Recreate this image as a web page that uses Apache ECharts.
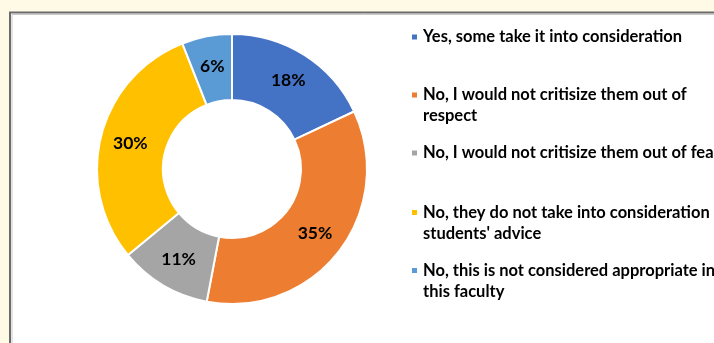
<!DOCTYPE html>
<html>
<head>
<meta charset="utf-8">
<script src="https://cdn.jsdelivr.net/npm/echarts@6/dist/echarts.min.js"></script>
<style>
html,body{margin:0;padding:0;background:#FFFAE6;}
#c{width:714px;height:343px;}
</style>
</head>
<body>
<div id="c"></div>
<script>
const categories = [
  "Yes, some take it into consideration",
  "No, I would not critisize them out of\nrespect",
  "No, I would not critisize them out of fear",
  "No, they do not take into consideration\nstudents' advice",
  "No, this is not considered appropriate in\nthis faculty"
];
const values = [18, 35, 11, 30, 6];
const colors = ["#4472C4", "#ED7D31", "#A5A5A5", "#FFC000", "#5B9BD5"];

const FONT = "Lato";
const LH = 21;
const firstLineY = [37, 95, 153, 212.5, 270.5];

const legends = categories.map((name, i) => {
  const twoLine = name.indexOf("\n") >= 0;
  return {
    orient: "vertical",
    left: 410,
    top: twoLine ? firstLineY[i] - 1.5 * LH : firstLineY[i] - LH / 2,
    padding: 0,
    itemWidth: 7,
    itemHeight: 7,
    icon: "rect",
    selectedMode: false,
    data: [name],
    formatter: twoLine ? (n) => " \n" + n : "{name}",
    textStyle: {
      fontFamily: FONT,
      fontWeight: "bold",
      fontSize: 16.5,
      color: "#000",
      lineHeight: LH
    }
  };
});

const chart = echarts.init(document.getElementById("c"));
chart.setOption({
  backgroundColor: "#FFFAE6",
  animation: false,
  color: colors,
  graphic: [
    {
      type: "rect",
      z: -10,
      silent: true,
      shape: { x: 10, y: 12.5, width: 800, height: 400 },
      style: { fill: "#ffffff", stroke: "#6b6b6b", lineWidth: 2 }
    },
    {
      type: "polyline",
      z: -9,
      silent: true,
      shape: { points: [[12, 400], [12, 14.5], [800, 14.5]] },
      style: { stroke: "#c8c8c8", lineWidth: 1, fill: null }
    }
  ],
  legend: legends,
  series: [{
    type: "pie",
    center: [232, 169],
    radius: [69, 135],
    startAngle: 90,
    clockwise: true,
    itemStyle: { borderColor: "#ffffff", borderWidth: 2 },
    label: {
      show: true,
      position: "inside",
      formatter: "{c}%",
      fontFamily: FONT,
      fontWeight: "bold",
      fontSize: 17.5,
      color: "#000",
      padding: [6, 0, 0, 0]
    },
    labelLine: { show: false },
    emphasis: { disabled: true },
    data: categories.map((n, i) => ({ name: n, value: values[i] }))
  }]
});
</script>
</body>
</html>
